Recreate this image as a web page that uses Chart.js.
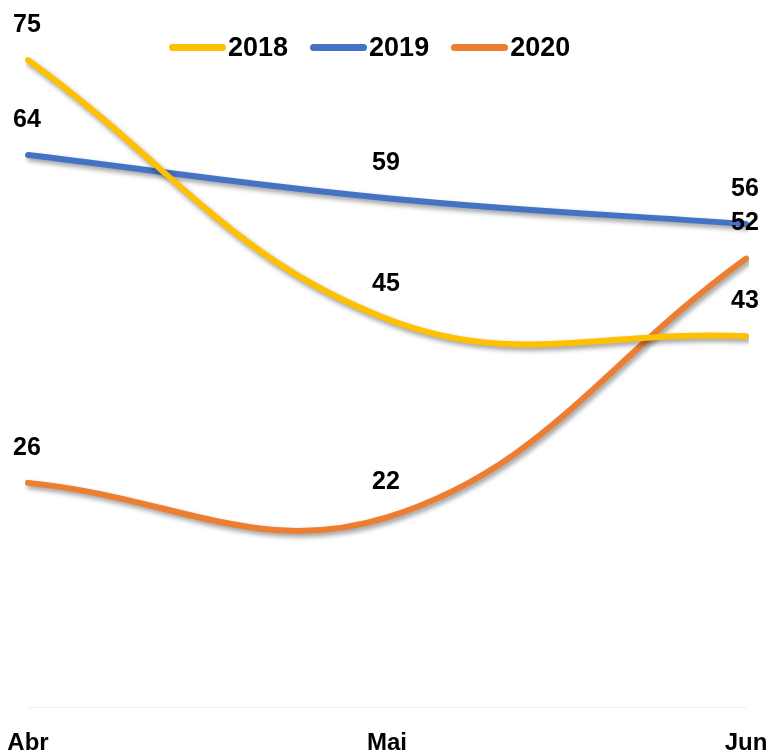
<!DOCTYPE html>
<html>
<head>
<meta charset="utf-8">
<script src="https://cdn.jsdelivr.net/npm/chart.js@4"></script>
<style>
  html, body { margin: 0; padding: 0; background: #fff; overflow: hidden; }
  #wrap { position: relative; width: 768px; height: 780px; }
  #legend {
    position: absolute; left: 169px; top: 32px;
    display: flex; align-items: center;
    font: bold 27px "Liberation Sans", Arial, sans-serif; color: #000;
  }
  .item { display: flex; align-items: center; margin-right: 22px; }
  .swatch { width: 57px; height: 7px; border-radius: 4px; margin-right: 2px; }
</style>
</head>
<body>
<div id="wrap">
  <canvas id="chart" width="768" height="780"></canvas>
  <div id="legend"></div>
</div>
<script>
// chart data
const months = ['Abr', 'Mai', 'Jun'];
const years = ['2018', '2019', '2020'];
const values2018 = [75, 45, 43];
const values2019 = [64, 59, 56];
const values2020 = [26, 22, 52];
const lineColors = ['#FFC000', '#4472C4', '#ED7D31'];

const fontFamily = '"Liberation Sans", Arial, sans-serif';

// soft drop shadow under each line
const shadowPlugin = {
    id: 'lineShadow',
    beforeDatasetDraw(chart) {
        const ctx = chart.ctx;
        ctx.save();
        ctx.shadowColor = 'rgba(0, 0, 0, 0.4)';
        ctx.shadowBlur = 5;
        ctx.shadowOffsetX = 2;
        ctx.shadowOffsetY = 3;
    },
    afterDatasetDraw(chart) {
        chart.ctx.restore();
    }
};

// value labels above each point
const valueLabels = {
    id: 'valueLabels',
    afterDatasetsDraw(chart) {
        const ctx = chart.ctx;
        ctx.save();
        ctx.font = 'bold 25px ' + fontFamily;
        ctx.fillStyle = '#000';
        ctx.textAlign = 'center';
        ctx.textBaseline = 'middle';
        chart.data.datasets.forEach((ds, i) => {
            chart.getDatasetMeta(i).data.forEach((pt, j) => {
                ctx.fillText(ds.data[j], pt.x - 1, pt.y - 35);
            });
        });
        ctx.restore();
    }
};

const chart = new Chart(document.getElementById('chart'), {
    type: 'line',
    data: {
        labels: months,
        datasets: [
            { label: years[0], data: values2018, borderColor: lineColors[0] },
            { label: years[1], data: values2019, borderColor: lineColors[1] },
            { label: years[2], data: values2020, borderColor: lineColors[2] }
        ]
    },
    options: {
        responsive: false,
        animation: false,
        layout: { padding: { top: 17, left: 28, right: 22, bottom: 0 } },
        elements: {
            line: { borderWidth: 6, tension: 0.4, borderCapStyle: 'round', fill: false },
            point: { radius: 0, hoverRadius: 0 }
        },
        plugins: {
            legend: { display: false },
            tooltip: { enabled: false }
        },
        scales: {
            x: {
                grid: { display: false, drawTicks: false },
                border: { display: true, color: '#f0f0f0', width: 1 },
                ticks: {
                    color: '#000',
                    padding: 22,
                    maxRotation: 0,
                    font: { family: fontFamily, size: 24, weight: 'bold' }
                },
                afterFit(scale) {
                    // let the end labels hang past the plot edges
                    scale.paddingLeft = 0;
                    scale.paddingRight = 0;
                }
            },
            y: {
                display: false,
                min: 0,
                max: 80
            }
        }
    },
    plugins: [shadowPlugin, valueLabels]
});

// legend built from the datasets
const legend = document.getElementById('legend');
chart.data.datasets.forEach(ds => {
    const item = document.createElement('div');
    item.className = 'item';
    const sw = document.createElement('span');
    sw.className = 'swatch';
    sw.style.background = ds.borderColor;
    const txt = document.createElement('span');
    txt.textContent = ds.label;
    item.appendChild(sw);
    item.appendChild(txt);
    legend.appendChild(item);
});
</script>
</body>
</html>
